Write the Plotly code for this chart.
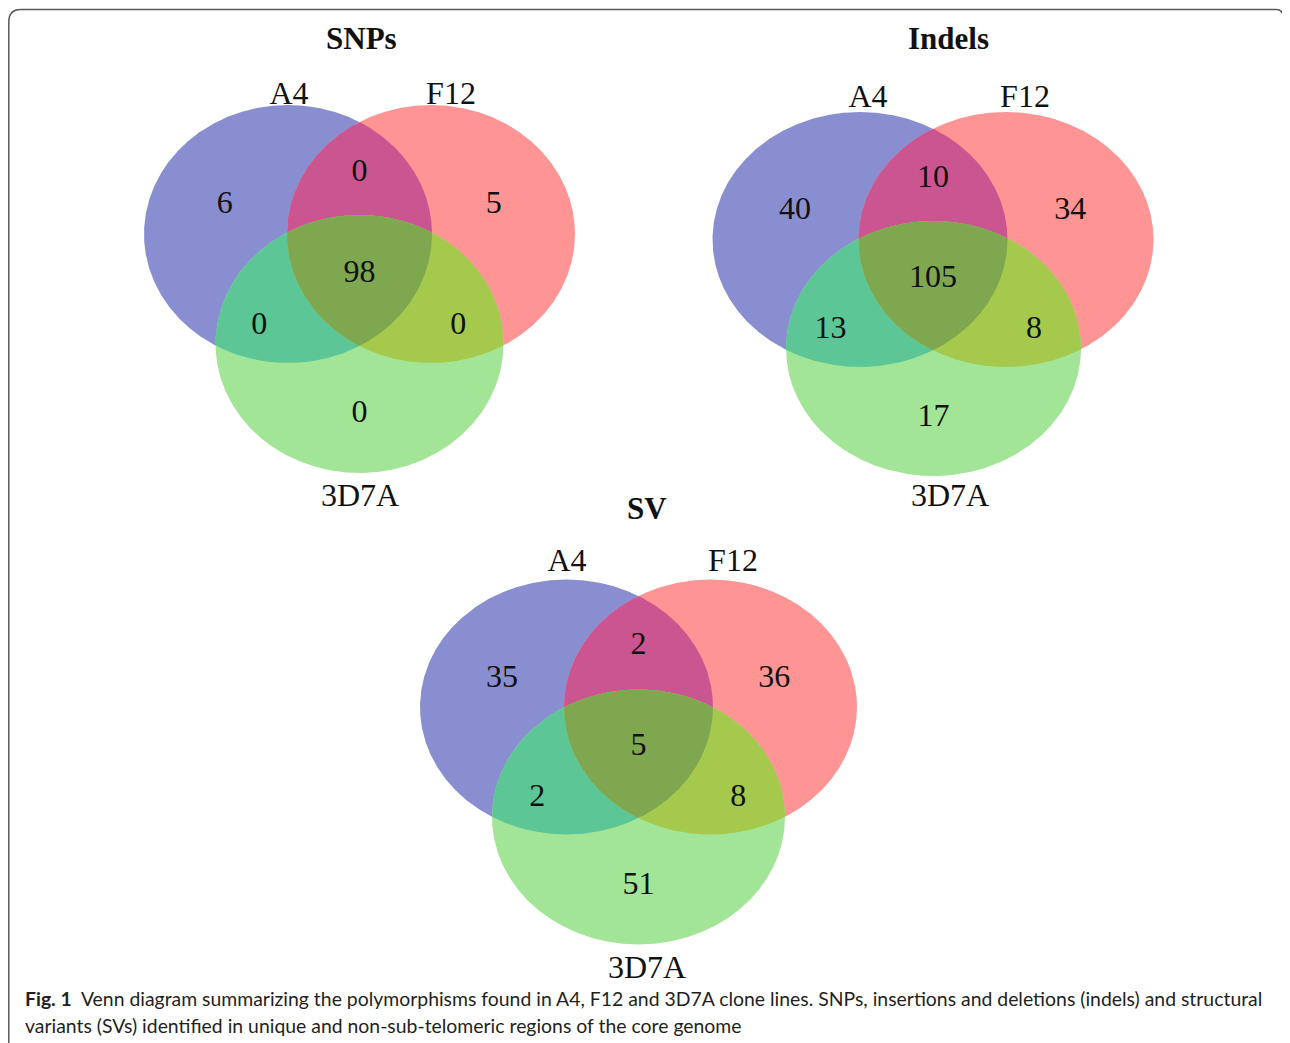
import numpy as np
import plotly.graph_objects as go

# ---------------- data ----------------
SET_NAMES = ["A4", "F12", "3D7A"]
REGIONS = ["A", "B", "C", "AB", "AC", "BC", "ABC"]
PANEL_TITLES = ["SNPs", "Indels", "SV"]
SNP_COUNTS = [6, 5, 0, 0, 0, 0, 98]
INDEL_COUNTS = [40, 34, 17, 10, 13, 8, 105]
SV_COUNTS = [35, 36, 51, 2, 2, 8, 5]
CAPTION_BOLD = "Fig. 1"
CAPTION_LINE1 = ("Venn diagram summarizing the polymorphisms found in A4, F12 and 3D7A clone lines. "
                 "SNPs, insertions and deletions (indels) and structural")
CAPTION_LINE2 = "variants (SVs) identified in unique and non-sub-telomeric regions of the core genome"

# ---------------- style ----------------
REGION_COLORS = {
    "A": "#898ED1", "B": "#FF9494", "C": "#A3E597",
    "AB": "#CB5591", "AC": "#5CC696", "BC": "#A4C94C", "ABC": "#7EA750",
}
PAGE_W, PAGE_H = 1290, 1043
OFF = 8  # page body margin
TEXT_NUDGE = 3

PANELS = [
    dict(title=PANEL_TITLES[0], counts=SNP_COUNTS,
         centers=[(288, 234), (431, 234), (359.5, 344)], rx=144, ry=129,
         title_pos=(361, 37), label_pos=[(289, 93), (451, 93), (360, 495)]),
    dict(title=PANEL_TITLES[1], counts=INDEL_COUNTS,
         centers=[(860, 239.5), (1006, 239.5), (933.5, 348.5)], rx=147.5, ry=127.5,
         title_pos=(948, 37), label_pos=[(868, 96), (1025, 96), (950, 495)]),
    dict(title=PANEL_TITLES[2], counts=SV_COUNTS,
         centers=[(566.5, 707), (710.5, 707), (638.5, 817)], rx=146.5, ry=127.5,
         title_pos=(647, 507), label_pos=[(567, 560), (733, 560), (647, 967)]),
]


def ellipse_pts(c, rx, ry, n=1440):
    t = np.linspace(0, 2 * np.pi, n, endpoint=False)
    return c[0] + rx * np.cos(t), c[1] + ry * np.sin(t)


def inside(x, y, c, rx, ry):
    return ((x - c[0]) / rx) ** 2 + ((y - c[1]) / ry) ** 2 <= 1 + 1e-9


def region_polygon(idx, centers, rx, ry):
    xs, ys = [], []
    for i in idx:
        x, y = ellipse_pts(centers[i], rx, ry)
        m = np.ones_like(x, dtype=bool)
        for j in idx:
            if j != i:
                m &= inside(x, y, centers[j], rx, ry)
        xs.append(x[m]); ys.append(y[m])
    x = np.concatenate(xs); y = np.concatenate(ys)
    mx, my = x.mean(), y.mean()
    order = np.argsort(np.arctan2(y - my, x - mx))
    x = x[order]; y = y[order]
    return np.append(x, x[0]), np.append(y, y[0])


def count_positions(centers, rx, ry):
    (ax, ay), (bx, by), (cx, cy) = centers
    return {
        "A": (ax - 0.44 * rx, ay - 0.245 * ry),
        "B": (bx + 0.435 * rx, by - 0.245 * ry),
        "C": (cx, cy + 0.52 * ry),
        "AB": ((ax + bx) / 2, ay - 0.5 * ry),
        "AC": (ax - 0.2 * rx, ay + 0.69 * ry),
        "BC": (bx + 0.19 * rx, by + 0.69 * ry),
        "ABC": ((ax + bx) / 2, ay + 0.29 * ry),
    }


fig = go.Figure()
draw_order = [("A", [0]), ("B", [1]), ("C", [2]), ("AB", [0, 1]), ("AC", [0, 2]),
              ("BC", [1, 2]), ("ABC", [0, 1, 2])]

for p in PANELS:
    for key, idx in draw_order:
        if len(idx) == 1:
            x, y = ellipse_pts(p["centers"][idx[0]], p["rx"], p["ry"])
            x = np.append(x, x[0]); y = np.append(y, y[0])
        else:
            x, y = region_polygon(idx, p["centers"], p["rx"], p["ry"])
        fig.add_trace(go.Scatter(x=x, y=y, mode="lines", fill="toself",
                                 fillcolor=REGION_COLORS[key], line=dict(width=0),
                                 hoverinfo="skip", showlegend=False))
    pos = count_positions(p["centers"], p["rx"], p["ry"])
    fig.add_trace(go.Scatter(
        x=[pos[r][0] for r in REGIONS], y=[pos[r][1] + TEXT_NUDGE for r in REGIONS],
        mode="text", text=[str(v) for v in p["counts"]],
        textfont=dict(family="Liberation Serif", size=32, color="#111111"),
        textposition="middle center", hoverinfo="skip", showlegend=False))
    fig.add_trace(go.Scatter(
        x=[q[0] for q in p["label_pos"]], y=[q[1] + TEXT_NUDGE for q in p["label_pos"]],
        mode="text", text=SET_NAMES,
        textfont=dict(family="Liberation Serif", size=32, color="#111111"),
        textposition="middle center", hoverinfo="skip", showlegend=False))
    fig.add_annotation(x=p["title_pos"][0], y=p["title_pos"][1] + 1, text="<b>%s</b>" % p["title"],
                       showarrow=False, xanchor="center", yanchor="middle",
                       font=dict(family="Liberation Serif", size=31, color="#111111"))

# caption
fig.add_annotation(x=23, y=998, text="<b>%s</b>  %s" % (CAPTION_BOLD, CAPTION_LINE1),
                   showarrow=False, xanchor="left", yanchor="middle",
                   font=dict(family="Lato", size=19.4, color="#231f20"))
fig.add_annotation(x=23, y=1025, text=CAPTION_LINE2,
                   showarrow=False, xanchor="left", yanchor="middle",
                   font=dict(family="Lato", size=19.4, color="#231f20"))

# rounded frame (right edge runs off the page, only the top-right corner shows)
fig.add_shape(type="path", xref="x", yref="y",
              path="M 8.8 1080 L 8.8 22 Q 8.8 9.5 21 9.5 L 1276 9.5 Q 1281 9.5 1282 13",
              line=dict(color="#5a5a5a", width=1.5))

H_FIG = PAGE_H - OFF
fig.update_xaxes(range=[OFF, PAGE_W], visible=False, fixedrange=True)
fig.update_yaxes(range=[OFF + H_FIG, OFF], visible=False, fixedrange=True)
fig.update_layout(width=PAGE_W - OFF, height=H_FIG, margin=dict(l=0, r=0, t=0, b=0),
                  plot_bgcolor="white", paper_bgcolor="white", showlegend=False)

fig.write_html("out.html")
